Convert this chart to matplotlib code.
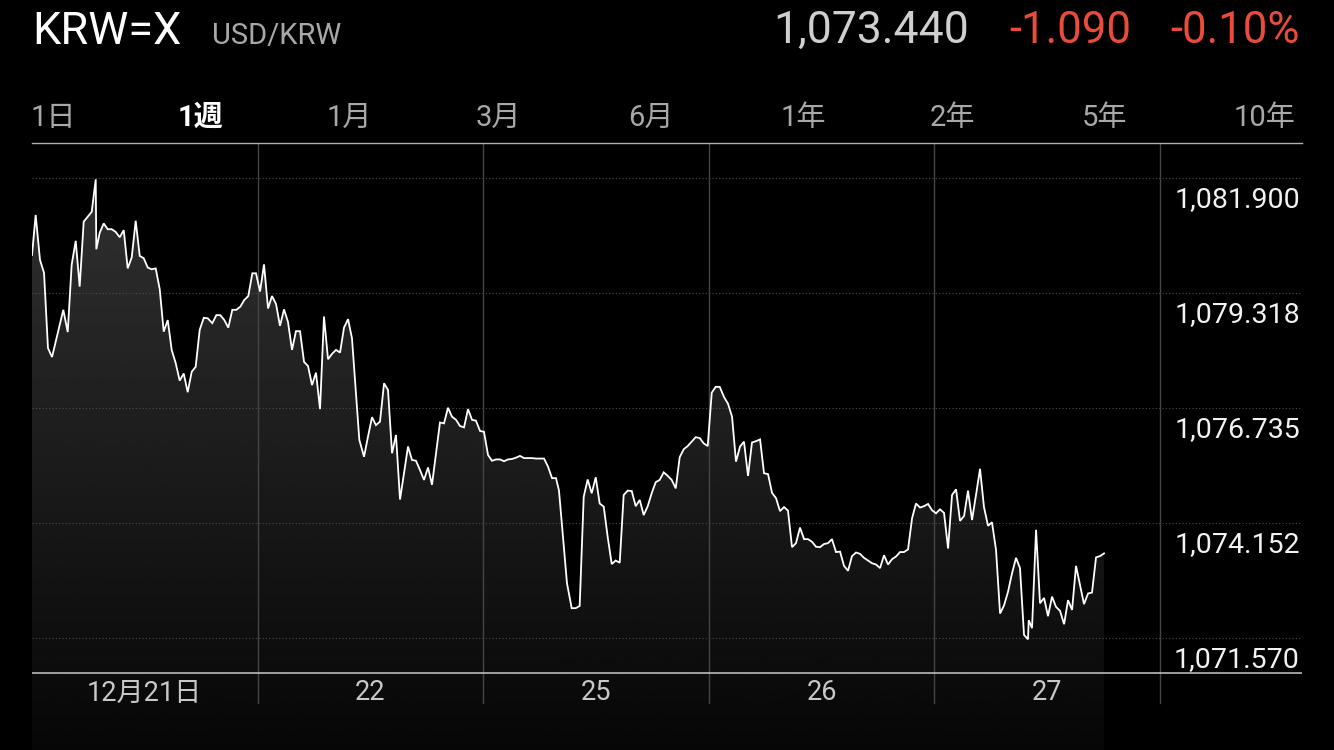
import matplotlib
matplotlib.use("Agg")
import matplotlib.pyplot as plt
import numpy as np

plt.rcParams['font.family'] = ['Roboto', 'Noto Sans CJK JP', 'DejaVu Sans']

# hours since the start of the week (each trading day = 24 units)
hours = [
    0.00, 0.39, 0.85, 1.28, 1.70, 2.13, 3.33, 3.80, 4.22, 4.65, 5.07, 5.50, 5.93, 6.35, 6.78, 6.84,
    7.20, 7.63, 8.05, 8.48, 8.90, 9.33, 9.76, 10.18, 10.61, 11.03, 11.46, 11.88, 12.31, 12.73, 13.16,
    13.59, 14.01, 14.44, 14.86, 15.29, 15.71, 16.14, 16.56, 16.99, 17.41, 17.84, 18.27, 18.69, 19.18,
    19.61, 20.03, 20.46, 20.88, 21.31, 21.73, 22.16, 22.58, 23.01, 23.44, 23.83, 24.26, 24.68, 25.11,
    25.53, 25.96, 26.38, 26.81, 27.23, 27.66, 28.08, 28.51, 28.94, 29.36, 29.79, 30.21, 30.64, 31.06,
    31.49, 31.91, 32.34, 32.77, 33.19, 33.62, 34.04, 34.82, 35.32, 35.74, 36.17, 36.59, 37.02, 37.45,
    37.87, 38.30, 38.72, 39.15, 40.00, 40.42, 40.85, 41.28, 41.70, 42.13, 42.55, 43.40, 43.83, 44.25,
    44.68, 45.11, 45.53, 45.96, 46.38, 46.81, 47.23, 47.66, 48.08, 48.51, 48.93, 49.36, 49.79, 50.21,
    50.64, 51.06, 51.49, 51.91, 52.34, 52.76, 53.19, 53.62, 54.04, 54.47, 54.89, 55.32, 55.74, 56.06,
    56.91, 57.41, 57.84, 58.26, 58.69, 59.11, 59.54, 59.97, 60.39, 60.82, 61.24, 61.67, 62.09, 62.52,
    62.94, 63.37, 63.80, 64.22, 64.65, 65.07, 65.50, 65.92, 66.35, 66.77, 67.20, 67.63, 68.05, 68.48,
    68.90, 69.33, 69.75, 70.18, 70.60, 71.03, 71.46, 71.88, 72.31, 72.73, 73.16, 73.62, 74.04, 74.47,
    74.89, 75.32, 75.74, 76.17, 76.59, 77.02, 77.45, 77.87, 78.30, 78.72, 79.15, 79.57, 80.00, 80.42,
    80.85, 81.27, 81.70, 82.13, 82.55, 82.98, 83.40, 83.83, 84.25, 84.68, 85.10, 85.53, 85.96, 86.38,
    86.81, 87.23, 87.66, 88.08, 88.51, 88.93, 89.36, 89.79, 90.21, 90.64, 91.06, 91.49, 91.91, 92.34,
    92.76, 93.19, 93.62, 94.04, 94.47, 94.89, 95.32, 95.74, 96.17, 96.59, 97.02, 97.45, 97.87, 98.30,
    98.72, 99.15, 99.57, 100.00, 100.42, 100.85, 101.27, 101.70, 102.12, 102.55, 102.98, 103.40,
    103.83, 104.25, 104.68, 105.10, 105.53, 105.95, 106.03, 106.38, 106.81, 107.23, 107.66, 108.08,
    108.51, 108.93, 109.36, 109.79, 110.21, 110.64, 111.06, 111.49, 111.91, 112.34, 112.76, 113.19,
    113.62, 114.04,
]

prices = [
    1080.17, 1081.07, 1080.06, 1079.77, 1078.08, 1077.88, 1078.94, 1078.44, 1079.95, 1080.49, 1079.46,
    1080.92, 1081.03, 1081.14, 1081.87, 1080.30, 1080.67, 1080.88, 1080.75, 1080.75, 1080.69, 1080.57,
    1080.73, 1079.87, 1080.12, 1080.94, 1080.15, 1080.10, 1079.89, 1079.85, 1079.87, 1079.40, 1078.45,
    1078.71, 1078.04, 1077.74, 1077.35, 1077.51, 1077.09, 1077.55, 1077.66, 1078.49, 1078.76, 1078.75,
    1078.64, 1078.82, 1078.82, 1078.71, 1078.54, 1078.94, 1078.94, 1079.01, 1079.16, 1079.25, 1079.76,
    1079.76, 1079.35, 1079.96, 1078.97, 1079.25, 1079.07, 1078.58, 1078.95, 1078.67, 1078.04, 1078.46,
    1078.46, 1077.77, 1077.68, 1077.25, 1077.53, 1076.71, 1078.79, 1077.83, 1077.95, 1078.04, 1077.98,
    1078.54, 1078.73, 1078.30, 1076.02, 1075.64, 1076.09, 1076.53, 1076.35, 1076.43, 1077.29, 1077.14,
    1075.72, 1076.13, 1074.68, 1075.87, 1075.57, 1075.55, 1075.34, 1075.12, 1075.40, 1075.01, 1076.41,
    1076.39, 1076.74, 1076.54, 1076.47, 1076.33, 1076.30, 1076.71, 1076.47, 1076.45, 1076.22, 1076.20,
    1075.68, 1075.55, 1075.58, 1075.58, 1075.54, 1075.58, 1075.59, 1075.62, 1075.66, 1075.61, 1075.61,
    1075.61, 1075.60, 1075.60, 1075.60, 1075.42, 1075.16, 1075.16, 1074.88, 1072.80, 1072.24, 1072.24,
    1072.29, 1074.74, 1075.13, 1074.82, 1075.18, 1074.59, 1074.52, 1073.84, 1073.23, 1073.31, 1073.26,
    1074.78, 1074.88, 1074.87, 1074.53, 1074.67, 1074.33, 1074.53, 1074.82, 1075.07, 1075.12, 1075.29,
    1075.21, 1075.12, 1074.93, 1075.63, 1075.81, 1075.88, 1075.98, 1076.08, 1076.06, 1075.94, 1075.88,
    1077.08, 1077.21, 1077.21, 1076.98, 1076.83, 1076.54, 1075.53, 1075.87, 1075.98, 1075.21, 1075.96,
    1075.99, 1076.03, 1075.27, 1075.25, 1074.83, 1074.71, 1074.42, 1074.51, 1074.43, 1073.61, 1073.70,
    1074.05, 1073.79, 1073.79, 1073.73, 1073.62, 1073.61, 1073.68, 1073.70, 1073.79, 1073.50, 1073.51,
    1073.19, 1073.08, 1073.41, 1073.49, 1073.46, 1073.37, 1073.31, 1073.25, 1073.22, 1073.14, 1073.43,
    1073.22, 1073.34, 1073.40, 1073.50, 1073.50, 1073.56, 1074.26, 1074.59, 1074.50, 1074.53, 1074.58,
    1074.44, 1074.37, 1074.46, 1074.38, 1073.58, 1074.78, 1074.91, 1074.20, 1074.31, 1074.88, 1074.22,
    1074.78, 1075.37, 1074.51, 1074.09, 1074.17, 1073.55, 1072.12, 1072.30, 1072.61, 1073.02, 1073.37,
    1073.14, 1071.64, 1071.54, 1071.97, 1071.79, 1074.00, 1072.35, 1072.47, 1072.06, 1072.50, 1072.27,
    1072.18, 1071.88, 1072.42, 1072.20, 1073.19, 1072.76, 1072.33, 1072.57, 1072.59, 1073.38, 1073.41,
    1073.47,
]

grid_levels = [1071.570, 1074.152, 1076.735, 1079.318, 1081.900]
grid_labels = ['1,071.570', '1,074.152', '1,076.735', '1,079.318', '1,081.900']
day_labels = ['12月21日', '22', '25', '26', '27']
day_bounds = [24, 48, 72, 96, 120]
tabs = ['1日', '1週', '1月', '3月', '6月', '1年', '2年', '5年', '10年']
tab_x = [53, 200, 349, 498, 651, 803, 952, 1105, 1265]

W, H = 1334, 750
fig = plt.figure(figsize=(W / 100, H / 100), dpi=100, facecolor='black')

# chart area: x 32..1302 px, y 143..750 px
ax = fig.add_axes([32 / W, 0, 1270 / W, 607 / H])
ax.set_facecolor('black')
ax.set_xlim(0, 135.1)
ax.set_ylim(1069.055, 1082.686)
ax.axis('off')

t = np.array(hours)
p = np.array(prices)
y0, y1 = ax.get_ylim()

# gradient under the line
grad = np.linspace(0.026, 0.20, 256).reshape(-1, 1)
img = ax.imshow(grad, cmap='gray', vmin=0, vmax=1, origin='lower', aspect='auto',
                extent=[t[0], t[-1], y0, y1], zorder=1)
poly = ax.fill_between(t, p, y0, color='none', lw=0)
clip = poly.get_paths()[0]
img.set_clip_path(clip, transform=ax.transData)

# dotted horizontal grid
for lv in grid_levels:
    ax.axhline(lv, color='#4d4d4d', lw=0.8, ls=(0, (1, 2)), zorder=2)

# day separators
vb = (750 - 703) / 607
for d in day_bounds:
    ax.axvline(d, ymin=vb, ymax=1, color='#454545', lw=1.0, zorder=2)

# top and bottom rules
ax.plot([0, 1], [1, 1], transform=ax.transAxes, color='#b0b0b0', lw=1.0, zorder=3, clip_on=False)
ax.plot([0, 1], [(750 - 673) / 607] * 2, transform=ax.transAxes, color='#c8c8c8', lw=1.1, zorder=3)

ax.plot(t, p, color='white', lw=1.3, zorder=4, solid_joinstyle='miter')

# price labels on the right, below each grid line
for lv, lb in zip(grid_levels, grid_labels):
    ax.annotate(lb, xy=(1.0, lv), xycoords=ax.get_yaxis_transform(),
                xytext=(-1.5, -15.5), textcoords='offset points',
                ha='right', va='center', color='#f2f2f2', fontsize=20.5)

# day labels
for i, lb in enumerate(day_labels):
    ax.text(day_bounds[i] - 12, (750 - 693) / 607, lb, transform=ax.get_xaxis_transform(),
            ha='center', va='center', color='#c8c8c8', fontsize=19.5)

# header
fig.text(32 / W, 1 - 32 / H, 'KRW=X', color='white', fontsize=32.5, ha='left', va='center')
fig.text(212 / W, 1 - 36 / H, 'USD/KRW', color='#a8a8a8', fontsize=21, ha='left', va='center')
fig.text(1300 / W, 1 - 31 / H, '-0.10%', color='#ea4c3c', fontsize=31.5, ha='right', va='center')
fig.text(1131 / W, 1 - 31 / H, '-1.090', color='#ea4c3c', fontsize=31.5, ha='right', va='center')
fig.text(969 / W, 1 - 31 / H, '1,073.440', color='#cfcfcf', fontsize=32, ha='right', va='center')

# range tabs
for lb, x in zip(tabs, tab_x):
    sel = lb == '1週'
    fig.text(x / W, 1 - 118 / H, lb, color='white' if sel else '#a8a8a8',
             fontsize=21, fontweight='bold' if sel else 'normal', ha='center', va='center')

fig.savefig('out.png', dpi=100, facecolor='black')
